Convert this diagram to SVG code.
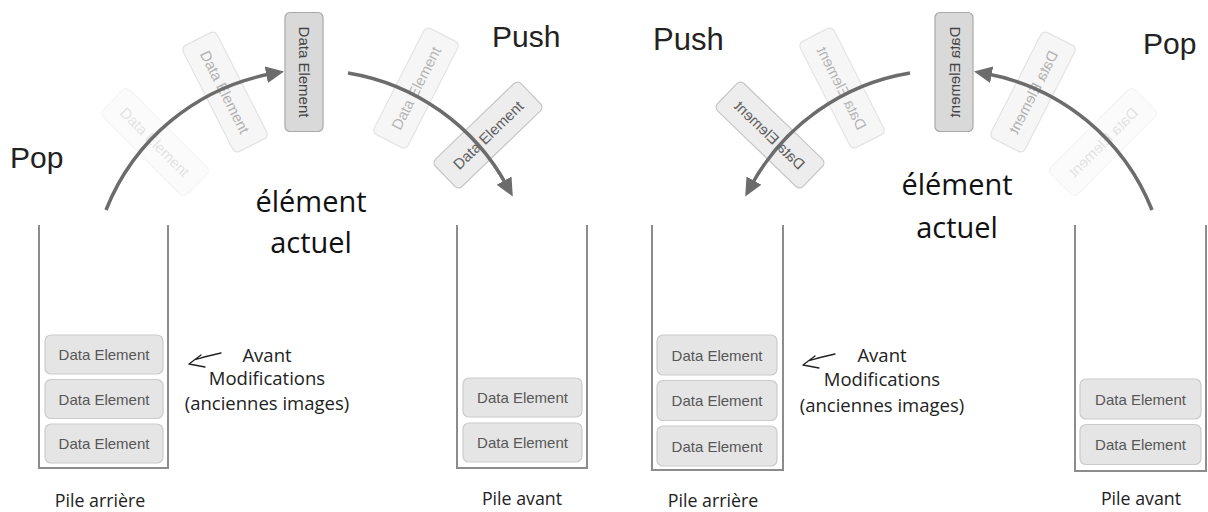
<svg xmlns="http://www.w3.org/2000/svg" width="1208" height="512" viewBox="0 0 1208 512">
<style>
.bg{fill:#ffffff}
.wall{fill:none;stroke:#8c8c8c;stroke-width:2}
.box{fill:#e5e5e5;stroke:#cbcbcb;stroke-width:1.2}
.btxt{font-family:"Liberation Sans",Arial,sans-serif;font-size:15px;fill:#575757;text-anchor:middle;dominant-baseline:central}
.abox{fill:#d9d9d9;stroke:#a8a8a8;stroke-width:1.2}
.fbox{fill:#ebebeb;stroke:#bdbdbd;stroke-width:1.2}
.atxt{font-family:"Liberation Sans",Arial,sans-serif;font-size:15px;fill:#444;text-anchor:middle;dominant-baseline:central}
.arc{fill:none;stroke:#6c6c6c;stroke-width:3.5}
.op{font-family:"Liberation Sans",Arial,sans-serif;font-size:30px;fill:#222}
.cur{font-family:"Open Sans","Noto Sans",sans-serif;font-size:29px;fill:#111;text-anchor:middle}
.note{font-family:"Open Sans","Noto Sans",sans-serif;font-size:18.5px;fill:#222;text-anchor:middle}
.lbl{font-family:"Open Sans","Noto Sans",sans-serif;font-size:17.8px;fill:#222;text-anchor:middle}
.hand{fill:none;stroke:#222;stroke-width:1.3;stroke-linecap:round;stroke-linejoin:round}
</style>
<defs>
<marker id="ah" markerUnits="userSpaceOnUse" markerWidth="20" markerHeight="20" refX="5" refY="8.5" orient="auto">
<path d="M0,0 L18,8.5 L0,17 z" fill="#6c6c6c"/>
</marker>
<g id="arcset">
<g id="ghost2" transform="translate(155,142) rotate(-45)" opacity="0.15"><rect class="fbox" x="-19" y="-59.5" width="38" height="119" rx="5"/><text class="atxt" transform="rotate(90)">Data Element</text></g>
<g id="ghost1" transform="translate(225,92) rotate(-27)" opacity="0.42"><rect class="fbox" x="-19" y="-59.5" width="38" height="119" rx="5"/><text class="atxt" transform="rotate(90)">Data Element</text></g>
<g id="ghost3" transform="translate(416,88) rotate(27)" opacity="0.4"><rect class="fbox" x="-19" y="-59.5" width="38" height="119" rx="5"/><text class="atxt" transform="rotate(-90)">Data Element</text></g>
<g id="ghost4" transform="translate(488,135) rotate(46)" opacity="0.85"><rect class="fbox" x="-19" y="-59.5" width="38" height="119" rx="5"/><text class="atxt" transform="rotate(-90)">Data Element</text></g>
<g id="current" transform="translate(304,72)"><rect class="abox" x="-19" y="-59.5" width="38" height="119" rx="5"/><text class="atxt" transform="rotate(90)">Data Element</text></g>
<g id="arcs">
<path class="arc" d="M106,210 A222,222 0 0 1 271.2,73.8" marker-end="url(#ah)"/>
<path class="arc" d="M348,72.9 A222,222 0 0 1 506.5,185" marker-end="url(#ah)"/>
</g>
</g>
</defs>
<rect class="bg" width="1208" height="512"/>

<!-- LEFT HALF -->
<g id="left-arcs"><use href="#arcset"/></g>

<g id="left-stack-back">
<path class="wall" d="M39,225 V468 H168 V225"/>
<rect class="box" x="45" y="335" width="118" height="39" rx="6"/><text class="btxt" x="104" y="354.5">Data Element</text>
<rect class="box" x="45" y="379.5" width="118" height="39" rx="6"/><text class="btxt" x="104" y="399">Data Element</text>
<rect class="box" x="45" y="424" width="118" height="39" rx="6"/><text class="btxt" x="104" y="443.5">Data Element</text>
<text class="lbl" x="100" y="507">Pile arrière</text>
</g>

<g id="left-stack-front">
<path class="wall" d="M457,225 V468 H587 V225"/>
<rect class="box" x="463" y="378" width="119" height="39" rx="6"/><text class="btxt" x="522.5" y="397.5">Data Element</text>
<rect class="box" x="463" y="423" width="119" height="39" rx="6"/><text class="btxt" x="522.5" y="442.5">Data Element</text>
<text class="lbl" x="522" y="505">Pile avant</text>
</g>

<g id="left-labels">
<text class="op" x="10" y="168">Pop</text>
<text class="op" x="492" y="47">Push</text>
<text class="cur" x="311" y="212">élément</text>
<text class="cur" x="311" y="253">actuel</text>
</g>

<g id="left-note">
<path class="hand" d="M221,353 Q207,356 194,360 M201,355 L189,364 L205,367"/>
<text class="note" x="267" y="362">Avant</text>
<text class="note" x="267" y="385">Modifications</text>
<text class="note" x="267" y="410">(anciennes images)</text>
</g>

<!-- RIGHT HALF (mirrored arc) -->
<g id="right-arcs" transform="translate(1258,0) scale(-1,1)"><use href="#arcset"/></g>

<g id="right-stack-back">
<path class="wall" d="M652,225 V470 H783 V225"/>
<rect class="box" x="657" y="335" width="120" height="40" rx="6"/><text class="btxt" x="717" y="355">Data Element</text>
<rect class="box" x="657" y="380.5" width="120" height="40" rx="6"/><text class="btxt" x="717" y="400.5">Data Element</text>
<rect class="box" x="657" y="426" width="120" height="40" rx="6"/><text class="btxt" x="717" y="446">Data Element</text>
<text class="lbl" x="713" y="507">Pile arrière</text>
</g>

<g id="right-stack-front">
<path class="wall" d="M1075,225 V471 H1206 V225"/>
<rect class="box" x="1080" y="379" width="121" height="40" rx="6"/><text class="btxt" x="1140.5" y="399">Data Element</text>
<rect class="box" x="1080" y="424.5" width="121" height="40" rx="6"/><text class="btxt" x="1140.5" y="444.5">Data Element</text>
<text class="lbl" x="1141" y="505">Pile avant</text>
</g>

<g id="right-labels">
<text class="op" x="1143" y="54">Pop</text>
<text class="op" x="653" y="50" style="font-size:31px">Push</text>
<text class="cur" x="957" y="195">élément</text>
<text class="cur" x="957" y="238">actuel</text>
</g>

<g id="right-note">
<path class="hand" d="M835,354 Q821,357 808,361 M815,356 L803,365 L819,368"/>
<text class="note" x="882" y="362">Avant</text>
<text class="note" x="882" y="386">Modifications</text>
<text class="note" x="882" y="412">(anciennes images)</text>
</g>
</svg>
